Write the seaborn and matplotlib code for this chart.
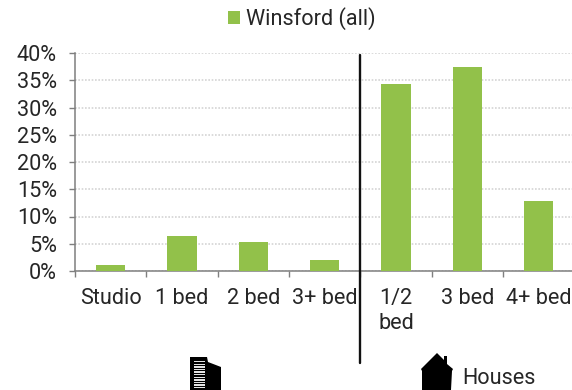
import numpy as np
import pandas as pd
import matplotlib
matplotlib.use("Agg")
import matplotlib.pyplot as plt
from matplotlib.patches import Polygon, Rectangle
import seaborn as sns

categories = ["Studio", "1 bed", "2 bed", "3+ bed", "1/2\nbed", "3 bed", "4+ bed"]
shares = [1.1, 6.5, 5.4, 2.1, 34.3, 37.5, 12.8]
series_name = "Winsford (all)"
y_ticks = [0, 5, 10, 15, 20, 25, 30, 35, 40]

W, H = 572, 390
GREEN = "#92C14A"
TEXT = "#262626"
FONT_SIZE = 15.6

sns.set_theme(style="white")
plt.rcParams["font.family"] = ["Roboto", "DejaVu Sans"]

df = pd.DataFrame({"category": categories, "share": shares, "series": series_name})

fig = plt.figure(figsize=(W / 100, H / 100), dpi=100)
ax = fig.add_axes([75 / W, (H - 271) / H, 499.5 / W, 218 / H])

sns.barplot(data=df, x="category", y="share", hue="series", palette=[GREEN],
            width=0.41, saturation=1, linewidth=0, edgecolor="none", ax=ax, zorder=3)

ax.set_xlim(-0.5, 6.5)
ax.set_ylim(0, 40)
ax.set_xlabel("")
ax.set_ylabel("")

# Light dotted gridlines and gray axis lines
ax.yaxis.grid(True, color="#d4d4d4", linestyle=(0, (1, 1)), linewidth=1.2, zorder=0)
ax.set_axisbelow(True)
for side in ("top", "right"):
    ax.spines[side].set_visible(False)
for side in ("left", "bottom"):
    ax.spines[side].set_color("#7f7f7f")
    ax.spines[side].set_linewidth(1.1)

ax.set_yticks(y_ticks)
ax.set_yticklabels([f"{v}%" for v in y_ticks])
ax.tick_params(axis="y", left=True, length=4.4, width=1, color="#7f7f7f",
               labelsize=FONT_SIZE, labelcolor=TEXT, pad=8.5)

# Category labels sit at bar centres, tick marks fall between the bars
ax.set_xticks(range(len(categories)))
ax.set_xticklabels(categories, linespacing=1.22)
ax.set_xticks(np.arange(-0.5, 7, 1), minor=True)
ax.tick_params(axis="x", which="major", bottom=False, length=0, labelsize=FONT_SIZE,
               labelcolor=TEXT, pad=12.5)
ax.tick_params(axis="x", which="minor", bottom=True, length=4, width=1, color="#7f7f7f")

# Legend above the plot
handles, labels = ax.get_legend_handles_labels()
ax.get_legend().remove()
fig.legend(handles, labels, loc="center", bbox_to_anchor=(302 / W, (H - 19) / H),
           frameon=False, fontsize=FONT_SIZE, handlelength=0.55, handleheight=0.55,
           handletextpad=0.3, labelcolor=TEXT, borderpad=0)

# Divider between flats and houses, running down past the axis
ax.axvline(3.5, ymin=-0.42, ymax=0.99, color="#111111", linewidth=1.7, clip_on=False, zorder=5)


def px(points):
    """Convert top-left pixel coordinates into figure fractions."""
    return [(x / W, (H - y) / H) for x, y in points]


# Apartment block icon
fig.add_artist(Polygon(px([(190, 357), (207, 357), (208, 362), (221, 367), (221, 390), (190, 390)]),
                       closed=True, facecolor="black", edgecolor="none", transform=fig.transFigure))
for y in np.arange(361, 388, 2.6):
    fig.add_artist(Rectangle(((194) / W, (H - y - 1.3) / H), 11 / W, 1.3 / H,
                             facecolor="#e4e4e4", edgecolor="none", transform=fig.transFigure))

# House icon
fig.add_artist(Polygon(px([(421, 369), (437, 353), (444, 360), (444, 356), (447, 356), (447, 364),
                           (453, 369), (452, 371), (451, 390), (422, 390), (422, 371)]),
                       closed=True, facecolor="black", edgecolor="none", transform=fig.transFigure))
fig.text(462 / W, (H - 379) / H, "Houses", fontsize=FONT_SIZE, color=TEXT, va="center", ha="left")

fig.savefig("out.png", dpi=100)
